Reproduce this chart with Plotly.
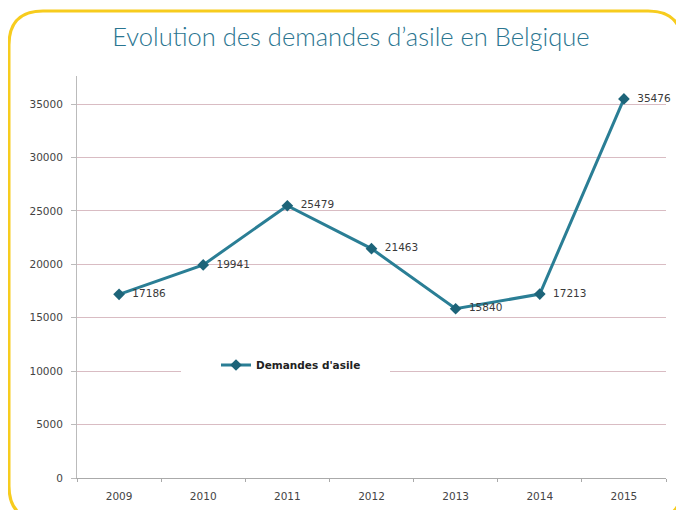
import plotly.graph_objects as go

years = ["2009", "2010", "2011", "2012", "2013", "2014", "2015"]
demandes = [17186, 19941, 25479, 21463, 15840, 17213, 35476]
y_ticks = [0, 5000, 10000, 15000, 20000, 25000, 30000, 35000]
title_text = "Evolution des demandes d\u2019asile en Belgique"
series_name = "Demandes d'asile"

OFF = 8  # page body margin
W, H = 684 - OFF, 510 - OFF
# plot area in window pixels: x 77..666, y 76..478
ML, MT = 77 - OFF, 76 - OFF
MR, MB = W - (666 - OFF), H - (478 - OFF)
PW, PH = W - ML - MR, H - MT - MB


def px(x):
    return (x - OFF - ML) / PW


def py(y):
    return (H - MB - (y - OFF)) / PH


fig = go.Figure()
fig.add_trace(go.Scatter(
    x=years, y=demandes, mode="lines+markers+text", name=series_name,
    line=dict(color="#2A7E95", width=3),
    marker=dict(symbol="diamond", size=9, color="#1D6479"),
    text=["  " + str(v) for v in demandes], textposition="middle right",
    textfont=dict(family="DejaVu Sans", size=10.5, color="#3A3A3A"),
    cliponaxis=False,
))

# white band behind legend (gap in the 10000 gridline)
fig.add_shape(type="rect", xref="paper", yref="paper",
              x0=px(181), x1=px(390), y0=py(374), y1=py(356),
              fillcolor="white", line=dict(width=0), layer="above")

# rounded yellow frame
x0, x1, y0, y1, r = 9, 682, 11, 520, 34
path = (
    f"M {px(x0 + r)},{py(y0)} L {px(x1 - r)},{py(y0)} "
    f"Q {px(x1)},{py(y0)} {px(x1)},{py(y0 + r)} "
    f"L {px(x1)},{py(y1 - r)} Q {px(x1)},{py(y1)} {px(x1 - r)},{py(y1)} "
    f"L {px(x0 + r)},{py(y1)} Q {px(x0)},{py(y1)} {px(x0)},{py(y1 - r)} "
    f"L {px(x0)},{py(y0 + r)} Q {px(x0)},{py(y0)} {px(x0 + r)},{py(y0)} Z"
)
fig.add_shape(type="path", path=path, xref="paper", yref="paper",
              line=dict(color="#F7CC1E", width=3), layer="above")

fig.update_layout(
    width=W, height=H,
    margin=dict(l=ML, r=MR, t=MT, b=MB, autoexpand=False),
    paper_bgcolor="white", plot_bgcolor="white",
    title=dict(text=title_text, x=(351 - OFF) / W, xanchor="center", xref="container",
               y=1 - (37 - OFF) / H, yanchor="middle",
               font=dict(family="Lato", size=25.5, color="#2A7590", weight=300)),
    showlegend=True,
    legend=dict(x=px(216), y=py(365), xanchor="left", yanchor="middle",
                bgcolor="rgba(0,0,0,0)", borderwidth=0,
                font=dict(family="DejaVu Sans", size=10.5, color="#222222", weight="bold"),
                itemwidth=30),
    xaxis=dict(type="category", showgrid=False, showline=True, automargin=False,
               linecolor="#AAAAAA", linewidth=1,
               ticks="outside", tickson="boundaries", ticklen=3, tickcolor="#AAAAAA",
               ticklabelstandoff=8,
               tickfont=dict(family="DejaVu Sans", size=10.5, color="#444444"),
               range=[-0.5, 6.5]),
    yaxis=dict(range=[0, 37620], tickvals=y_ticks, ticktext=[str(v) for v in y_ticks],
               automargin=False,
               showgrid=True, gridcolor="#D9BCC3", gridwidth=1.2,
               showline=True, linecolor="#BBBBBB", linewidth=1,
               ticks="outside", ticklen=5, tickcolor="#BBBBBB",
               ticklabelstandoff=6,
               tickfont=dict(family="DejaVu Sans", size=10.5, color="#444444"),
               zeroline=False),
)

fig.write_html("out.html")
